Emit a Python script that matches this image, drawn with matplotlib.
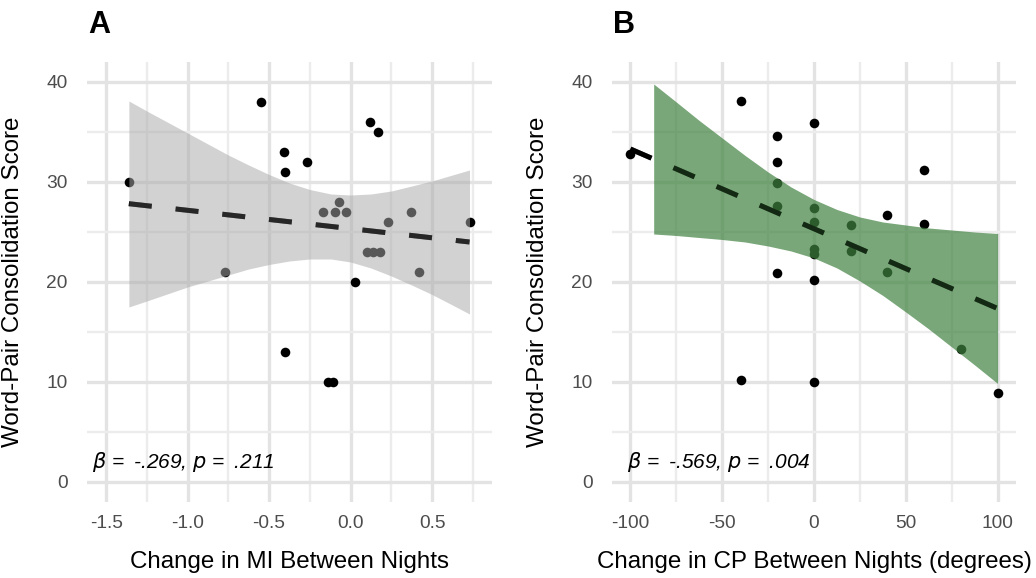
import matplotlib
matplotlib.use("Agg")
import matplotlib.pyplot as plt
import numpy as np

plt.rcParams['font.family'] = ['Liberation Sans', 'DejaVu Sans']

# ---- panel A : change in MI ----
mi_x = [-1.36, -0.55, -0.41, -0.40, -0.27, 0.12, 0.17, -0.77, -0.17, -0.095, -0.03,
        -0.07, 0.23, 0.37, 0.42, 0.73, 0.10, 0.14, 0.18, 0.03, -0.40, -0.14, -0.105]
mi_y = [30, 38, 33, 31, 32, 36, 35, 21, 27, 27, 27,
        28, 26, 27, 21, 26, 23, 23, 23, 20, 13, 10, 10]
mi_line_x = [-1.36, 0.73]
mi_line_y = [27.83, 24.0]
mi_band_x = [-1.36, -1.25, -1.125, -1.0, -0.875, -0.75, -0.625, -0.5, -0.375, -0.25,
             -0.12, 0.0, 0.125, 0.25, 0.375, 0.5, 0.625, 0.73]
mi_band_hi = [38.1, 37.1, 36.0, 34.9, 33.8, 32.7, 31.7, 30.75, 29.9, 29.25,
              28.8, 28.7, 28.8, 29.1, 29.6, 30.1, 30.7, 31.2]
mi_band_lo = [17.5, 18.1, 18.8, 19.5, 20.1, 20.7, 21.3, 21.75, 22.1, 22.3,
              22.3, 22.0, 21.4, 20.6, 19.7, 18.75, 17.7, 16.8]

# ---- panel B : change in CP ----
cp_x = [-100, -40, -20, -20, -20, -20, -20, -40, 0, 0, 0, 0,
        0, 0, 0, 20, 20, 40, 40, 60, 60, 80, 100]
cp_y = [32.8, 38.1, 34.6, 32.0, 29.9, 27.6, 20.9, 10.2, 35.9, 27.4, 26.0, 23.3,
        22.8, 20.2, 10.0, 25.7, 23.1, 26.7, 21.0, 31.2, 25.8, 13.3, 8.9]
cp_line_x = [-100, 100]
cp_line_y = [33.3, 17.35]
cp_band_x = [-87.3, -75, -62.5, -50, -37.5, -25, -12.5, 0, 12.5, 25,
             37.5, 50, 62.5, 75, 87.5, 100]
cp_band_hi = [39.8, 38.0, 36.15, 34.4, 32.65, 31.0, 29.5, 28.25, 27.25, 26.5,
              26.0, 25.7, 25.4, 25.2, 25.0, 24.85]
cp_band_lo = [24.8, 24.65, 24.45, 24.25, 24.0, 23.6, 23.1, 22.4, 21.4, 20.1,
              18.65, 17.0, 15.3, 13.5, 11.7, 9.85]

fig = plt.figure(figsize=(10.36, 5.78), dpi=100)
axA = fig.add_axes([87/1036, 76/578, 405/1036, 440/578])
axB = fig.add_axes([612/1036, 76/578, 404/1036, 440/578])


def style(ax, xlim, xmaj, xmin, xlabs):
    ax.set_xlim(*xlim)
    ax.set_ylim(-2, 42)
    ax.set_xticks(xmaj)
    ax.set_xticklabels(xlabs)
    ax.set_xticks(xmin, minor=True)
    ax.set_yticks([0, 10, 20, 30, 40])
    ax.set_yticks([5, 15, 25, 35], minor=True)
    ax.grid(which='major', color='#e3e3e3', lw=2.4, zorder=0)
    ax.grid(which='minor', color='#ececec', lw=1.7, zorder=0)
    ax.set_axisbelow(True)
    for s in ax.spines.values():
        s.set_visible(False)
    ax.tick_params(which='both', length=0)
    ax.tick_params(axis='y', pad=14, labelsize=13.8, labelcolor='#4d4d4d')
    ax.tick_params(axis='x', pad=9, labelsize=13.8, labelcolor='#4d4d4d')
    ax.set_ylabel('Word-Pair Consolidation Score', fontsize=17.4, color='black')
    ax.yaxis.set_label_coords(-0.155, 0.5)


style(axA, (-1.617, 0.868), [-1.5, -1.0, -0.5, 0.0, 0.5], [-1.25, -0.75, -0.25, 0.25, 0.75],
      ['-1.5', '-1.0', '-0.5', '0.0', '0.5'])
style(axB, (-110, 110), [-100, -50, 0, 50, 100], [-75, -25, 25, 75],
      ['-100', '-50', '0', '50', '100'])

axA.set_xlabel('Change in MI Between Nights', fontsize=17.4)
axB.set_xlabel('Change in CP Between Nights (degrees)', fontsize=17.4)
for ax in (axA, axB):
    ax.xaxis.set_label_coords(0.5, -0.136)
    ax.xaxis.label.set_va('center')

dash = (4.6, 4.8)
# panel A
axA.scatter(mi_x, mi_y, s=48, color='black', zorder=2, linewidths=0)
axA.plot(mi_line_x, mi_line_y, color='black', lw=3.6, dashes=dash, zorder=3)
axA.fill_between(mi_band_x, mi_band_lo, mi_band_hi, color='#aaaaaa', alpha=0.52, lw=0, zorder=4)
axA.plot(mi_line_x, mi_line_y, color='black', lw=3.6, dashes=dash, alpha=0.55, zorder=5)

# panel B
axB.scatter(cp_x, cp_y, s=48, color='black', zorder=2, linewidths=0)
axB.plot(cp_line_x, cp_line_y, color='black', lw=3.6, dashes=dash, zorder=3)
axB.fill_between(cp_band_x, cp_band_lo, cp_band_hi, color='#408240', alpha=0.70, lw=0, zorder=4)
axB.plot(cp_line_x, cp_line_y, color='black', lw=3.6, dashes=dash, alpha=0.55, zorder=5)

ts = '\u2009'
axA.text(-1.586, 1.95, r'$\beta$' + ' = ' + ts + '-.269, ' + r'$p$' + ' = ' + ts + '.211', fontsize=15,
         style='italic', va='center', ha='left', zorder=6)
axB.text(-101.6, 1.95, r'$\beta$' + ' = ' + ts + '-.569, ' + r'$p$' + ' = ' + ts + '.004', fontsize=15,
         style='italic', va='center', ha='left', zorder=6)

fig.text(88/1036, 1 - 33/578, 'A', fontsize=22, fontweight='bold', ha='left', va='baseline')
fig.text(613/1036, 1 - 33/578, 'B', fontsize=22, fontweight='bold', ha='left', va='baseline')

fig.savefig('out.png', dpi=100)
